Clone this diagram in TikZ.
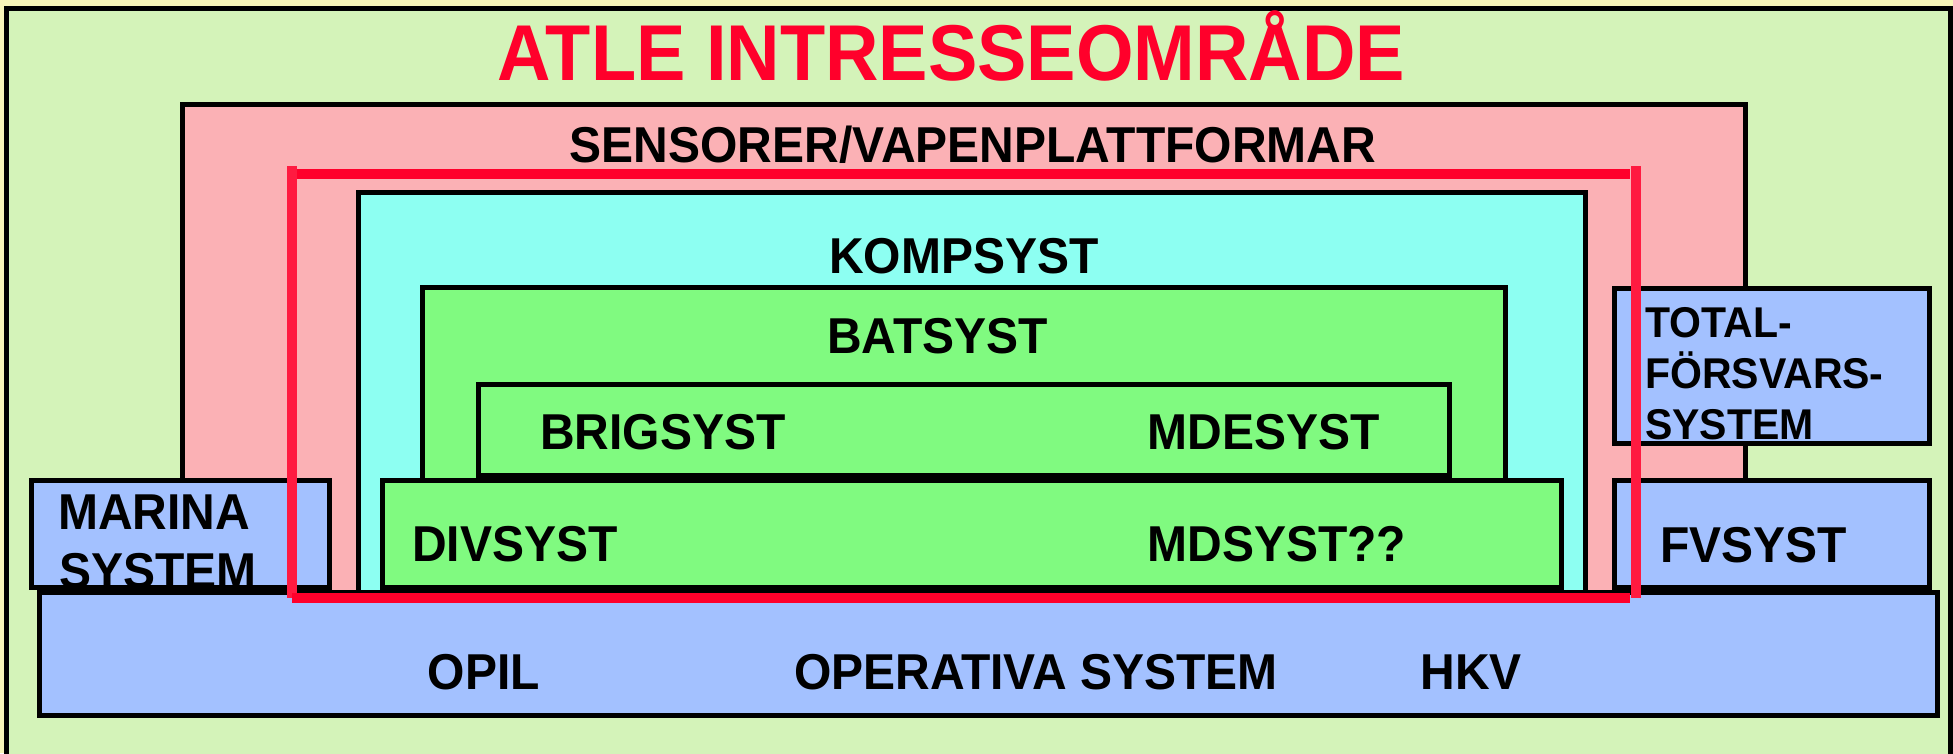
\documentclass[tikz,border=0pt]{standalone}
\usepackage{fontspec}
\setmainfont{Liberation Sans}
\definecolor{bgyellow}{RGB}{248,246,185}
\definecolor{framegreen}{RGB}{212,243,185}
\definecolor{pinkfill}{RGB}{251,177,181}
\definecolor{cyanfill}{RGB}{141,255,242}
\definecolor{greenfill}{RGB}{128,250,128}
\definecolor{bluefill}{RGB}{163,193,255}
\definecolor{redh}{RGB}{255,0,43}
\definecolor{redv}{RGB}{255,26,64}
\newcommand{\tallertext}[1]{\scalebox{1}[1.05]{#1}}
\begin{document}
\begin{tikzpicture}[x=1pt,y=-1pt,
  box/.style={draw=black,line width=5pt},
  lbl/.style={inner sep=0pt,anchor=base,font=\fontsize{48}{58}\selectfont\bfseries},
  lblw/.style={inner sep=0pt,anchor=base west,font=\fontsize{48}{58}\selectfont\bfseries},
  smalllbl/.style={inner sep=0pt,anchor=base west,font=\fontsize{41}{50}\selectfont\bfseries},
  redhline/.style={draw=redh,line width=10pt},
  redvline/.style={draw=redv,line width=10pt}]
\useasboundingbox (0,0) rectangle (1953,753);
\clip (0,0) rectangle (1953,753);
\fill[bgyellow] (0,0) rectangle (1953,753);
% outer frame
\filldraw[box,fill=framegreen] (6.7,8.5) rectangle (1950.5,775);
% sensor / weapon platforms
\filldraw[box,fill=pinkfill] (182.6,104.8) rectangle (1745.5,592.5);
% KOMPSYST
\filldraw[box,fill=cyanfill] (358.5,192.8) rectangle (1585.5,592.5);
% BATSYST
\filldraw[box,fill=greenfill] (422.5,287.8) rectangle (1505.5,540);
% BRIGSYST / MDESYST
\filldraw[box,fill=greenfill] (478.5,384.2) rectangle (1449,475);
% DIVSYST / MDSYST
\filldraw[box,fill=greenfill] (382.5,480) rectangle (1561.5,587.5);
% MARINA SYSTEM
\fill[bluefill] (31,480) rectangle (329.5,587);
\node[lblw] (marina1) at (58,529) {\tallertext{MARINA}};
\node[lblw] (marina2) at (59,588) {\tallertext{SYSTEM}};
\draw[box] (31,480) rectangle (329.5,587);
% TOTALFORSVARSSYSTEM
\filldraw[box,fill=bluefill] (1614.5,288) rectangle (1929.5,443.5);
% FVSYST
\filldraw[box,fill=bluefill] (1614.5,480.5) rectangle (1929.5,587.5);
% OPERATIVA SYSTEM
\filldraw[box,fill=bluefill] (39.5,592.5) rectangle (1937.5,715);
% red interest area
\draw[redvline] (292,166) -- (292,597.5);
\draw[redhline] (297,174) -- (1630,174);
\draw[redhline] (292,598) -- (1630,598);
\draw[redvline] (1636,166) -- (1636,598);
% texts
\node[inner sep=0pt,anchor=base,text=redh,font=\fontsize{74}{88}\selectfont\bfseries] (title) at (951.5,80) {\scalebox{1}[1.07]{ATLE INTRESSEOMRÅDE}};
\node[lbl] (sensor) at (973,162) {\tallertext{SENSORER/VAPENPLATTFORMAR}};
\node[lbl] (komp) at (963.7,273.3) {\tallertext{KOMPSYST}};
\node[lbl] (bat) at (937.5,353) {\tallertext{BATSYST}};
\node[lbl] (brig) at (663,449.3) {\tallertext{BRIGSYST}};
\node[lbl] (mde) at (1263.8,449.3) {\tallertext{MDESYST}};
\node[lbl] (div) at (515,561.7) {\tallertext{DIVSYST}};
\node[lbl] (md) at (1276.7,561.7) {\tallertext{MDSYST??}};
\node[lbl] (opil) at (483.8,689.3) {\tallertext{OPIL}};
\node[lbl] (oper) at (1035.8,689.3) {\tallertext{OPERATIVA SYSTEM}};
\node[lbl] (hkv) at (1471,689.3) {\tallertext{HKV}};
\node[lbl] (fv) at (1753.8,562) {\tallertext{FVSYST}};
\node[smalllbl] (tot1) at (1645,337) {\tallertext{TOTAL-}};
\node[smalllbl] (tot2) at (1645,388) {\tallertext{FÖRSVARS-}};
\node[smalllbl] (tot3) at (1645,439) {\tallertext{SYSTEM}};
\end{tikzpicture}
\end{document}
